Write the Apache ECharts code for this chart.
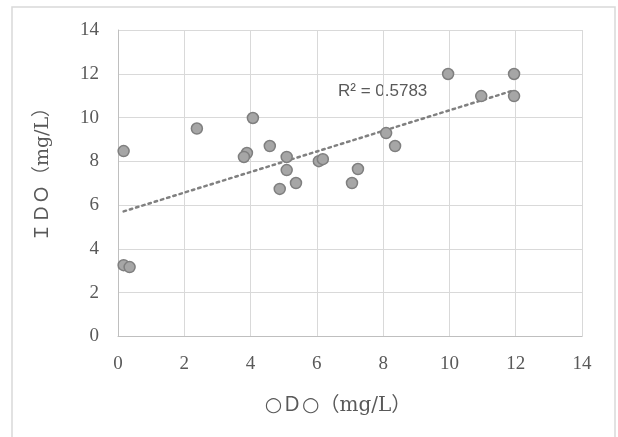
<!DOCTYPE html>
<html><head><meta charset="utf-8">
<script src="https://cdn.jsdelivr.net/npm/echarts@6/dist/echarts.min.js"></script>
<style>html,body{margin:0;padding:0;background:#fff}#c{width:618px;height:437px}</style>
</head><body><div id="c"></div>
<script>
var odo = [0.17,0.17,0.35,2.38,4.07,3.89,3.8,4.58,5.09,5.09,4.88,5.37,6.06,6.18,7.06,7.24,8.09,8.36,9.96,10.96,11.95,11.95];
var ido = [8.47,3.26,3.17,9.5,9.98,8.38,8.2,8.7,8.2,7.6,6.74,7.01,8.01,8.1,7.01,7.65,9.29,8.7,11.99,10.98,11.99,10.98];
var xTitle = '○Ｄ○（mg/L）';
var yTitle = 'ＩＤＯ（mg/L）';
var r2Label = 'R² = 0.5783';

var pts = odo.map(function(x,i){return [x, ido[i]];});
// linear least-squares trendline
var n = odo.length, sx=0, sy=0, sxx=0, sxy=0;
for (var i=0;i<n;i++){sx+=odo[i];sy+=ido[i];sxx+=odo[i]*odo[i];sxy+=odo[i]*ido[i];}
var b = (n*sxy - sx*sy)/(n*sxx - sx*sx), a = (sy - b*sx)/n;
var xmin = Math.min.apply(null,odo), xmax = Math.max.apply(null,odo);
var trend = [[xmin, a+b*xmin],[xmax, a+b*xmax]];

var chart = echarts.init(document.getElementById('c'), null, {renderer:'canvas'});
var txt = '#595959', gridC = '#d9d9d9';
var serif = '"Liberation Serif","Noto Sans CJK JP",serif';
var titleFont = '"DejaVu Serif","Liberation Serif","Noto Sans CJK JP",serif';
chart.setOption({
  animation:false,
  grid:{left:118, top:30, right:36, bottom:100.5, containLabel:false},
  xAxis:{type:'value', min:0, max:14, interval:2,
    axisLine:{show:true, lineStyle:{color:'#bfbfbf', width:1}},
    axisTick:{show:false},
    axisLabel:{color:txt, fontSize:19, fontFamily:serif, margin:18},
    splitLine:{show:true, lineStyle:{color:gridC, width:1}}},
  yAxis:{type:'value', min:0, max:14, interval:2,
    axisLine:{show:true, lineStyle:{color:'#bfbfbf', width:1}},
    axisTick:{show:false},
    axisLabel:{color:txt, fontSize:19, fontFamily:serif, margin:19},
    splitLine:{show:true, lineStyle:{color:gridC, width:1}}},
  graphic:[
    {type:'rect', shape:{x:12, y:7, width:603, height:445}, silent:true,
     style:{fill:'none', stroke:'#d9d9d9', lineWidth:1.5}},
    {type:'text', left:338, top:83, silent:true,
     style:{text:r2Label, fill:txt, font:'17px "Liberation Sans", sans-serif'}},
    {type:'text', x:338, y:406, silent:true,
     style:{text:xTitle, fill:txt, font:'20px ' + titleFont, align:'center', verticalAlign:'middle'}},
    {type:'text', x:43, y:170, rotation:Math.PI/2, silent:true,
     style:{text:yTitle, fill:txt, font:'19px ' + titleFont, align:'center', verticalAlign:'middle'}}
  ],
  series:[
    {type:'line', data:trend, symbol:'none', silent:true, z:2,
     lineStyle:{color:'#808080', width:2.5, type:[2.5,4], cap:'round'}},
    {type:'scatter', data:pts, symbol:'circle', symbolSize:11, z:3,
     itemStyle:{color:'#a6a6a6', borderColor:'#7f7f7f', borderWidth:1.5, opacity:1}}
  ]
});
</script></body></html>
